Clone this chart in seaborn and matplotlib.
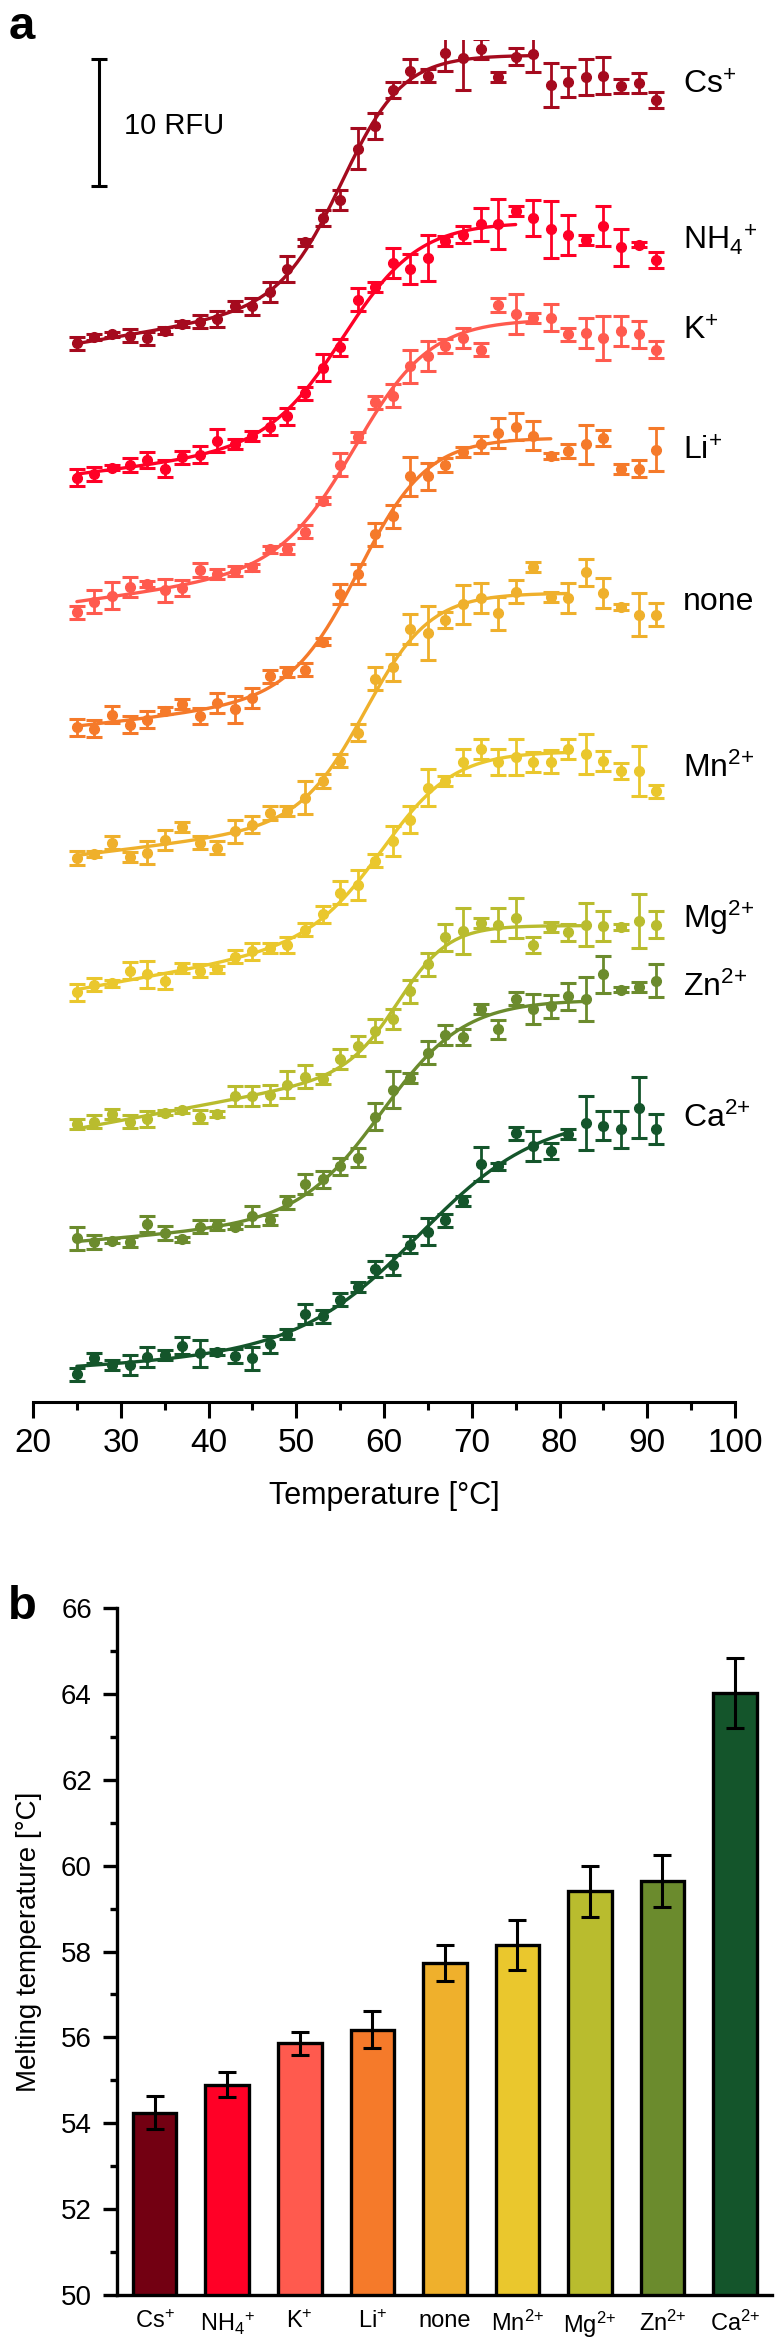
import numpy as np
import pandas as pd
import matplotlib
matplotlib.use('Agg')
import matplotlib.pyplot as plt
import seaborn as sns
from matplotlib.ticker import MultipleLocator

#%% Data
temps = np.array(list(range(25, 92, 2)))

# panel a, stacked fluorescence [RFU] as displayed
cs = [82.5, 83.0, 83.2, 83.1, 82.9, 83.5, 84.0, 84.2, 84.4, 85.4, 85.4, 86.5, 88.3, 90.4, 92.3, 93.7, 97.7,
      99.5, 102.3, 103.8, 103.4, 105.2, 104.8, 105.5, 103.3, 104.9, 105.1, 102.7, 102.9, 103.3, 103.4, 102.6, 102.8, 101.5]
cs_err = [0.52, 0.2, 0.2, 0.52, 0.52, 0.26, 0.26, 0.52, 0.65, 0.39, 0.65, 0.78, 1.04, 0.26, 0.65, 0.78, 1.6,
          1.0, 0.65, 0.9, 0.52, 1.43, 2.5, 0.78, 0.39, 0.65, 1.43, 1.7, 1.17, 1.43, 1.43, 0.52, 0.78, 0.65]
nh4 = [72.0, 72.3, 72.8, 73.0, 73.4, 72.7, 73.6, 73.8, 74.9, 74.6, 75.3, 76.0, 76.8, 78.6, 80.6, 82.2, 85.9,
       86.9, 88.8, 88.3, 89.2, 90.5, 91.0, 91.8, 91.8, 92.8, 92.3, 91.4, 91.0, 90.6, 91.7, 90.0, 90.2, 89.0]
nh4_err = [0.65, 0.52, 0.2, 0.52, 0.65, 0.65, 0.52, 0.65, 0.9, 0.39, 0.39, 0.65, 0.65, 0.52, 1.04, 0.65, 0.9,
           0.39, 1.17, 1.17, 1.8, 0.39, 0.65, 1.3, 1.95, 0.39, 1.43, 2.2, 1.56, 0.39, 1.56, 1.43, 0.2, 0.65]
k = [61.5, 62.3, 62.8, 63.5, 63.7, 63.2, 63.4, 64.8, 64.5, 64.7, 65.0, 66.4, 66.4, 67.8, 70.2, 73.0, 75.2,
     77.9, 78.4, 80.7, 81.5, 82.3, 82.9, 82.0, 85.5, 84.8, 84.5, 84.5, 83.2, 83.3, 82.9, 83.5, 83.2, 82.0]
k_err = [0.52, 0.9, 1.04, 0.78, 0.26, 0.9, 0.65, 0.52, 0.39, 0.39, 0.26, 0.26, 0.39, 0.52, 0.26, 0.9, 0.39,
         0.52, 0.9, 1.3, 1.17, 0.52, 0.78, 0.52, 0.52, 1.56, 0.39, 1.04, 0.52, 1.17, 1.7, 1.17, 1.04, 0.65]
li = [52.5, 52.4, 53.5, 52.7, 53.1, 53.8, 54.3, 53.4, 54.4, 53.9, 54.8, 56.5, 56.8, 57.0, 59.2, 62.9, 64.5,
      67.6, 69.0, 72.1, 72.1, 73.0, 74.0, 74.6, 75.5, 76.0, 75.3, 73.7, 74.1, 74.6, 75.1, 72.7, 72.7, 74.2]
li_err = [0.65, 0.65, 0.65, 0.65, 0.65, 0.26, 0.39, 0.65, 0.78, 1.04, 0.78, 0.52, 0.39, 0.52, 0.26, 0.78, 0.78,
          0.9, 0.9, 1.56, 1.04, 0.52, 0.39, 0.65, 1.17, 1.04, 1.17, 0.26, 0.52, 1.56, 0.65, 0.39, 0.65, 1.7]
none = [42.3, 42.6, 43.5, 42.4, 42.7, 43.7, 44.7, 43.5, 43.1, 44.4, 44.9, 45.8, 46.0, 47.0, 48.3, 49.9, 52.1,
        56.3, 57.2, 60.2, 59.9, 60.9, 62.1, 62.6, 61.4, 63.1, 65.0, 62.7, 62.6, 64.6, 63.0, 61.9, 61.3, 61.3]
none_err = [0.52, 0.26, 0.52, 0.39, 0.9, 0.78, 0.39, 0.52, 0.52, 0.9, 0.65, 0.52, 0.39, 1.3, 0.52, 0.52, 0.65,
            0.9, 1.04, 1.17, 2.1, 0.65, 1.56, 1.17, 1.3, 0.9, 0.39, 0.39, 1.17, 1.04, 1.17, 0.26, 1.7, 0.9]
mn = [31.8, 32.4, 32.5, 33.5, 33.2, 32.7, 33.7, 33.5, 33.6, 34.6, 35.0, 35.3, 35.5, 36.7, 37.9, 39.6, 40.2,
      42.1, 43.6, 45.3, 47.8, 48.3, 49.8, 50.8, 49.8, 50.2, 49.8, 49.8, 50.8, 50.4, 49.9, 49.1, 49.1, 47.5]
mn_err = [0.65, 0.52, 0.26, 0.65, 1.04, 0.65, 0.39, 0.52, 0.26, 0.52, 0.65, 0.39, 0.65, 0.52, 0.65, 0.9, 1.17,
          0.52, 1.17, 1.04, 1.43, 0.39, 1.04, 0.78, 1.04, 1.43, 0.78, 0.9, 0.78, 1.56, 0.78, 0.65, 1.95, 0.52]
mg = [21.5, 21.7, 22.3, 21.7, 21.9, 22.4, 22.6, 22.1, 22.3, 23.7, 23.7, 23.8, 24.6, 25.2, 25.0, 26.6, 27.6,
      28.8, 29.7, 31.9, 34.0, 36.1, 36.6, 37.2, 37.1, 37.6, 35.5, 36.9, 36.5, 37.1, 37.0, 36.9, 37.4, 37.1]
mg_err = [0.39, 0.52, 0.39, 0.52, 0.65, 0.2, 0.2, 0.52, 0.26, 0.78, 0.78, 0.78, 1.04, 0.9, 0.39, 0.78, 0.78,
          0.9, 0.78, 0.9, 0.9, 1.04, 1.8, 0.39, 1.3, 1.56, 0.65, 0.39, 0.65, 1.7, 1.17, 0.26, 2.1, 1.04]
zn = [12.6, 12.3, 12.4, 12.3, 13.7, 13.0, 12.5, 13.5, 13.6, 13.5, 14.3, 14.0, 15.4, 16.8, 17.2, 18.2, 18.9,
      22.1, 24.2, 25.1, 27.1, 28.5, 28.3, 30.5, 28.9, 31.3, 30.5, 30.7, 31.5, 31.3, 33.2, 32.0, 32.2, 32.7]
zn_err = [0.9, 0.52, 0.2, 0.39, 0.65, 0.52, 0.2, 0.52, 0.39, 0.2, 0.78, 0.39, 0.52, 0.78, 0.65, 0.65, 0.78,
          1.04, 1.43, 0.39, 0.9, 0.78, 0.65, 0.39, 0.78, 0.52, 1.17, 0.9, 1.04, 1.7, 1.43, 0.2, 0.39, 1.3]
ca = [1.95, 3.2, 2.7, 2.7, 3.3, 3.5, 4.2, 3.6, 3.7, 3.4, 3.2, 4.3, 5.1, 6.7, 6.5, 7.8, 8.8,
      10.2, 10.5, 12.1, 13.1, 14.0, 15.5, 18.4, 18.2, 20.8, 19.8, 19.4, 20.7, 21.6, 21.4, 21.1, 22.8, 21.1]
ca_err = [0.52, 0.39, 0.39, 0.78, 0.78, 0.39, 0.65, 1.04, 0.26, 0.52, 0.9, 0.65, 0.39, 0.78, 0.52, 0.52, 0.39,
          0.65, 0.78, 0.65, 1.04, 0.52, 0.39, 1.3, 0.26, 0.52, 1.17, 0.65, 0.39, 2.1, 1.17, 1.43, 2.35, 1.17]

ions = ['Cs$^{+}$', 'NH$_4$$^{+}$', 'K$^{+}$', 'Li$^{+}$', 'none',
        'Mn$^{2{+}}$', 'Mg$^{2{+}}$', 'Zn$^{2{+}}$', 'Ca$^{2{+}}$']
curves = [cs, nh4, k, li, none, mn, mg, zn, ca]
curve_errs = [cs_err, nh4_err, k_err, li_err, none_err, mn_err, mg_err, zn_err, ca_err]
fit_end = [77, 75, 77, 79, 81, 81, 83, 83, 81]

# panel b, melting temperatures
tm = [54.25, 54.9, 55.86, 56.18, 57.74, 58.15, 59.4, 59.65, 64.02]
tm_err = [0.39, 0.29, 0.27, 0.43, 0.42, 0.58, 0.6, 0.61, 0.82]

bar_colors = ['#730012', '#FF0026', '#FF5A4E', '#F57A2A', '#EFB02C',
              '#EAC72D', '#B9BC2E', '#6B8B2D', '#14552B']
line_colors = ['#A50A1E'] + bar_colors[1:]
label_y = [102.0, 89.8, 82.8, 73.4, 61.7, 48.6, 36.8, 31.5, 21.3]


#%% Boltzmann fit with sloped lower baseline
def fit_melt(t, y, tm0, t_end):
    sel = t <= t_end
    ts, ys = t[sel], y[sel]
    best = (np.inf, None)
    for tmid in np.arange(tm0 - 5, tm0 + 5.01, 0.2):
        for w in np.arange(1.5, 9.01, 0.2):
            s = 1 / (1 + np.exp((tmid - ts) / w))
            X = np.column_stack([1 - s, (1 - s) * (ts - 25), s])
            coef = np.linalg.lstsq(X, ys, rcond=None)[0]
            sse = np.sum((X @ coef - ys) ** 2)
            if sse < best[0]:
                best = (sse, (tmid, w, coef))
    return best[1]


#%% Plot
sns.set_theme(style='white')
plt.rcParams['font.family'] = ['Liberation Sans', 'DejaVu Sans']
plt.rcParams['mathtext.default'] = 'regular'
plt.rcParams['axes.edgecolor'] = 'black'
plt.rcParams['xtick.color'] = 'black'
plt.rcParams['ytick.color'] = 'black'
plt.rcParams['text.color'] = 'black'
plt.rcParams['axes.labelcolor'] = 'black'

fig = plt.figure(figsize=(7.81, 23.5), dpi=100)
axa = fig.add_axes([0.04225, 0.4034, 0.8989, 0.5796])
axb = fig.add_axes([0.1498, 0.0234, 0.8387, 0.2923])

for i in range(len(curves)):
    y = np.array(curves[i])
    tmid, w, coef = fit_melt(temps, y, tm[i], fit_end[i])
    tt = np.linspace(25, fit_end[i], 200)
    s = 1 / (1 + np.exp((tmid - tt) / w))
    yy = coef[0] * (1 - s) + coef[1] * (1 - s) * (tt - 25) + coef[2] * s
    sns.lineplot(x=tt, y=yy, color=line_colors[i], lw=2.4, ax=axa)
    axa.errorbar(temps, y, yerr=curve_errs[i], fmt='o', color=line_colors[i], ms=7,
                 markeredgecolor=line_colors[i], elinewidth=2.0, capsize=5.5, capthick=2.2)
    axa.text(94.1, label_y[i], ions[i], fontsize=23, ha='left', va='baseline')

# scale bar
axa.errorbar([27.5], [99.73], yerr=[4.97], fmt='none', ecolor='black', elinewidth=2.2,
             capsize=6, capthick=2.2)
axa.text(30.4, 99.5, '10 RFU', fontsize=21, ha='left', va='center')

axa.set_xlim(20, 100)
axa.set_ylim(-0.2, 106.2)
for sp in ['left', 'top', 'right']:
    axa.spines[sp].set_visible(False)
axa.spines['bottom'].set_linewidth(2.2)
axa.set_yticks([])
axa.xaxis.set_major_locator(MultipleLocator(10))
axa.xaxis.set_minor_locator(MultipleLocator(5))
axa.tick_params(axis='x', which='major', direction='out', length=11.5, width=2.2, labelsize=24, pad=7,
                bottom=True)
axa.tick_params(axis='x', which='minor', direction='out', length=5.8, width=2.2, bottom=True)
axa.set_xlabel('Temperature [°C]', fontsize=22, labelpad=16)

# panel b
df = pd.DataFrame({'ion': ions, 'tm': tm})
sns.barplot(data=df, x='ion', y='tm', hue='ion', palette=bar_colors, legend=False, saturation=1,
            width=0.6, edgecolor='black', linewidth=2.4, errorbar=None, ax=axb)
axb.errorbar(np.arange(len(tm)), tm, yerr=tm_err, fmt='none', ecolor='black', elinewidth=2.2,
             capsize=6.5, capthick=2.2)
axb.set_xlim(-0.52, 8.51)
axb.set_ylim(50, 66)
axb.yaxis.set_major_locator(MultipleLocator(2))
axb.yaxis.set_minor_locator(MultipleLocator(1))
for sp in ['top', 'right']:
    axb.spines[sp].set_visible(False)
for sp in ['left', 'bottom']:
    axb.spines[sp].set_linewidth(2.4)
axb.tick_params(axis='y', which='major', direction='out', length=10, width=2.4, labelsize=20, pad=8,
                left=True)
axb.tick_params(axis='y', which='minor', direction='out', length=5, width=2.4, left=True)
axb.tick_params(axis='x', length=0, labelsize=17, pad=11)
axb.set_xlabel('')
axb.set_ylabel('Melting temperature [°C]', fontsize=20)
axb.yaxis.set_label_coords(-0.1145, 0.514)

fig.text(0.0115, 1 - 39 / 2350, 'a', fontsize=34, fontweight='bold', va='baseline')
fig.text(0.0103, 1 - 1619 / 2350, 'b', fontsize=34, fontweight='bold', va='baseline')

fig.savefig('out.png', dpi=100)
